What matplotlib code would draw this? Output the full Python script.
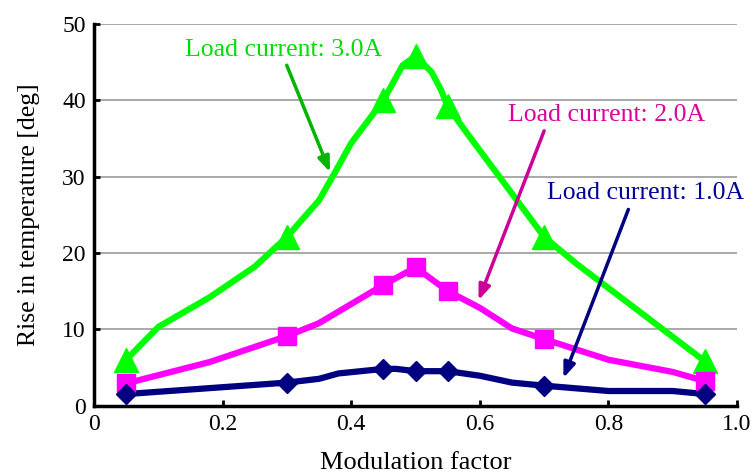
import matplotlib
matplotlib.use("Agg")
import matplotlib.pyplot as plt

plt.rcParams['font.family'] = ['Liberation Serif', 'DejaVu Serif']

# Modulation factor sampling (full curves) and the measured points carrying markers
x_3a = [0.05, 0.10, 0.18, 0.25, 0.30, 0.35, 0.375, 0.40, 0.45, 0.48, 0.50,
        0.525, 0.54, 0.55, 0.58, 0.70, 0.75, 0.95]
y_3a = [6.0, 10.3, 14.2, 18.2, 22.1, 26.9, 30.6, 34.4, 40.0, 44.6, 45.8,
        43.7, 41.3, 39.2, 35.7, 22.1, 18.6, 5.8]

x_2a = [0.05, 0.18, 0.30, 0.35, 0.40, 0.45, 0.50, 0.55, 0.60, 0.65, 0.70,
        0.80, 0.90, 0.95]
y_2a = [2.9, 5.7, 9.1, 10.8, 13.3, 15.8, 18.1, 15.0, 12.8, 10.1, 8.7,
        6.0, 4.4, 3.2]

x_1a = [0.05, 0.30, 0.35, 0.38, 0.45, 0.47, 0.50, 0.55, 0.60, 0.65, 0.70,
        0.80, 0.90, 0.95]
y_1a = [1.5, 3.0, 3.5, 4.2, 4.8, 4.8, 4.5, 4.5, 3.9, 3.0, 2.6,
        1.9, 1.9, 1.5]

marker_x = [0.05, 0.30, 0.45, 0.50, 0.55, 0.70, 0.95]

x_ticks = [0, 0.2, 0.4, 0.6, 0.8, 1.0]
x_tick_labels = ['0', '0.2', '0.4', '0.6', '0.8', '1.0']
y_ticks = [0, 10, 20, 30, 40, 50]

labels = ['Load current: 3.0A', 'Load current: 2.0A', 'Load current: 1.0A']

fig = plt.figure(figsize=(7.54, 4.73), dpi=100)
ax = fig.add_axes([0.1247, 0.1427, 0.8528, 0.8065])

series = [
    (x_3a, y_3a, '#00FF00', '^', 17),
    (x_2a, y_2a, '#FF00FF', 's', 12.5),
    (x_1a, y_1a, '#000080', 'D', 10),
]
for xs, ys, color, mk, ms in series:
    ax.plot(xs, ys, color=color, lw=4.5, solid_joinstyle='round',
            solid_capstyle='round', zorder=3)
    idx = [xs.index(v) for v in marker_x]
    ax.plot([xs[i] for i in idx], [ys[i] for i in idx], linestyle='none',
            marker=mk, markersize=ms, color=color, zorder=4)

ax.set_xlim(0, 1.0)
ax.set_ylim(0, 50)
ax.set_xticks(x_ticks)
ax.set_xticklabels(x_tick_labels)
ax.set_yticks(y_ticks)
ax.tick_params(axis='both', direction='in', length=4, width=2, labelsize=17,
               colors='black')
ax.tick_params(axis='x', pad=6)
ax.tick_params(axis='y', pad=6)
ax.yaxis.grid(True, color='#999999', lw=1.2)
ax.set_axisbelow(True)
for side in ('top', 'right'):
    ax.spines[side].set_visible(False)
for side in ('left', 'bottom'):
    ax.spines[side].set_linewidth(2.5)

ax.set_xlabel('Modulation factor', fontsize=19, labelpad=12)
ax.set_ylabel('Rise in temperature [deg]', fontsize=18.5, labelpad=16)

# Callouts naming each load current
annots = [
    (labels[0], (0.2955, 46.6), (0.2997, 44.6), (0.367, 30.6), '#00DD00', '#00B400'),
    (labels[1], (0.797, 38.1), (0.700, 36.0), (0.598, 13.8), '#DD0099', '#CC0099'),
    (labels[2], (0.857, 27.85), (0.831, 25.7), (0.730, 3.6), '#000099', '#000080'),
]
for text, tpos, start, tip, tcolor, acolor in annots:
    ax.text(tpos[0], tpos[1], text, color=tcolor, fontsize=18.5,
            ha='center', va='center', zorder=5)
    ax.annotate('', xy=tip, xytext=start,
                arrowprops=dict(arrowstyle='-|>,head_length=0.9,head_width=0.35',
                                color=acolor, lw=2.5, shrinkA=0, shrinkB=0),
                zorder=5)

fig.savefig('out.png', dpi=100)
